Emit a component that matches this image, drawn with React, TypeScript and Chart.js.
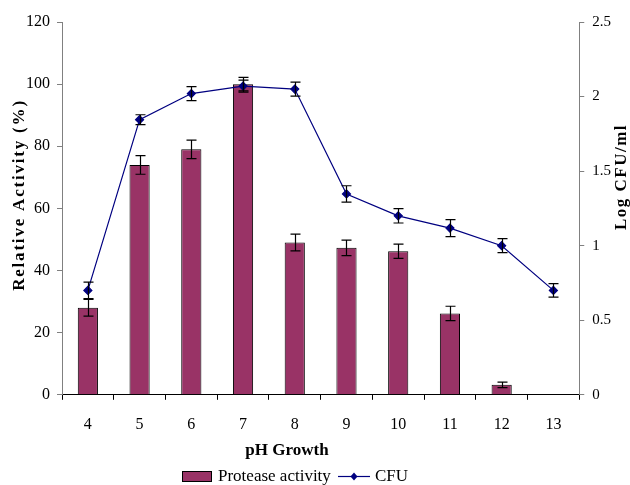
import React, { useEffect, useRef } from 'react';
import { Chart, registerables } from 'chart.js';
Chart.register(...registerables);

const categories = ['4', '5', '6', '7', '8', '9', '10', '11', '12', '13'];
const proteaseActivity = [28, 74, 79, 100, 49, 47.3, 46.2, 26.2, 3.2, 0];
const proteaseError = [2.7, 3, 3, 2.2, 2.7, 2.5, 2.3, 2.3, 0.9, 0];
const cfu = [0.7, 1.845, 2.02, 2.07, 2.05, 1.347, 1.2, 1.118, 1.0, 0.7];
const cfuError = [0.055, 0.033, 0.047, 0.04, 0.047, 0.055, 0.048, 0.057, 0.047, 0.045];
const leftTicks = [0, 20, 40, 60, 80, 100, 120];
const rightTicks = [0, 0.5, 1, 1.5, 2, 2.5];
const seriesNames = ['Protease activity', 'CFU'];

const FONT = "'Liberation Serif', 'Times New Roman', serif";
const BAR_COLOR = '#993366';
const LINE_COLOR = '#000080';

function drawRotated(ctx: any, text: string, x: number, y: number, spacing: string) {
  ctx.save();
  ctx.font = `bold 17px ${FONT}`;
  ctx.fillStyle = '#000';
  ctx.textAlign = 'center';
  ctx.textBaseline = 'middle';
  try { ctx.letterSpacing = spacing; } catch (e) { /* ignore */ }
  ctx.translate(x, y);
  ctx.rotate(-Math.PI / 2);
  ctx.fillText(text, 0, 0);
  ctx.restore();
}

const decorPlugin = {
  id: 'decor',
  afterDatasetsDraw(chart: any) {
    const ctx = chart.ctx;
    const errs = [proteaseError, cfuError];
    const scaleIds = ['y', 'y1'];
    const vals = [proteaseActivity, cfu];
    ctx.save();
    ctx.strokeStyle = '#000';
    ctx.lineWidth = 1.2;
    for (let d = 0; d < 2; d++) {
      const meta = chart.getDatasetMeta(d);
      const sc = chart.scales[scaleIds[d]];
      meta.data.forEach((el: any, i: number) => {
        const e = errs[d][i];
        if (!e) return;
        const x = Math.round(el.x) + 0.5;
        const yt = sc.getPixelForValue(vals[d][i] + e);
        const yb = sc.getPixelForValue(vals[d][i] - e);
        ctx.beginPath();
        ctx.moveTo(x, yt); ctx.lineTo(x, yb);
        ctx.moveTo(x - 5, yt); ctx.lineTo(x + 5, yt);
        ctx.moveTo(x - 5, yb); ctx.lineTo(x + 5, yb);
        ctx.stroke();
      });
    }
    ctx.restore();
  },
  afterDraw(chart: any) {
    const ctx = chart.ctx;
    drawRotated(ctx, 'Relative Activity (%)', 20, 195, '1.8px');
    drawRotated(ctx, 'Log CFU/ml', 622, 177, '1.5px');

    // x axis title
    ctx.save();
    ctx.fillStyle = '#000';
    ctx.font = `bold 17px ${FONT}`;
    ctx.textAlign = 'center';
    ctx.textBaseline = 'middle';
    ctx.fillText('pH Growth', 287, 451);

    // legend
    const ly = 476;
    ctx.fillStyle = BAR_COLOR;
    ctx.fillRect(182, ly - 5, 30, 11);
    ctx.strokeStyle = '#000';
    ctx.lineWidth = 1;
    ctx.strokeRect(182.5, ly - 4.5, 29, 10);
    ctx.font = `17px ${FONT}`;
    ctx.fillStyle = '#000';
    ctx.textAlign = 'left';
    ctx.fillText(seriesNames[0], 218, ly + 1);
    ctx.strokeStyle = LINE_COLOR;
    ctx.lineWidth = 1.2;
    ctx.beginPath();
    ctx.moveTo(338, ly + 0.5);
    ctx.lineTo(370, ly + 0.5);
    ctx.stroke();
    ctx.fillStyle = LINE_COLOR;
    ctx.beginPath();
    ctx.moveTo(354, ly - 3.5); ctx.lineTo(357.5, ly + 0.5); ctx.lineTo(354, ly + 4.5); ctx.lineTo(350.5, ly + 0.5);
    ctx.closePath();
    ctx.fill();
    ctx.fillStyle = '#000';
    ctx.fillText(seriesNames[1], 375, ly + 1);
    ctx.restore();
  },
};

export default function App() {
  const ref = useRef<HTMLCanvasElement>(null);
  useEffect(() => {
    document.body.style.margin = '0';
    const chart = new Chart(ref.current!, {
      type: 'bar',
      data: {
        labels: categories,
        datasets: [
          {
            type: 'bar',
            label: seriesNames[0],
            data: proteaseActivity,
            backgroundColor: BAR_COLOR,
            borderColor: '#000',
            borderWidth: 1,
            barPercentage: 0.39,
            categoryPercentage: 1,
            yAxisID: 'y',
            order: 2,
          },
          {
            type: 'line',
            label: seriesNames[1],
            data: cfu,
            borderColor: LINE_COLOR,
            backgroundColor: LINE_COLOR,
            borderWidth: 1.2,
            pointStyle: 'rectRot',
            pointRadius: 4,
            pointBackgroundColor: LINE_COLOR,
            pointBorderColor: LINE_COLOR,
            yAxisID: 'y1',
            order: 1,
          } as any,
        ],
      },
      options: {
        animation: false,
        responsive: true,
        maintainAspectRatio: false,
        layout: { padding: { top: 22, right: 11, left: 19, bottom: 36 } },
        plugins: {
          tooltip: { enabled: false },
          legend: { display: false },
        },
        scales: {
          x: {
            offset: true,
            grid: { offset: true, drawOnChartArea: false, drawTicks: true, tickLength: 5, color: '#000' },
            border: { color: '#000', width: 1 },
            ticks: { color: '#000', font: { family: FONT, size: 16 }, padding: 15 },
          },
          y: {
            position: 'left',
            min: 0,
            max: 120,
            afterBuildTicks: (s: any) => { s.ticks = leftTicks.map((v) => ({ value: v })); },
            grid: { drawOnChartArea: false, tickLength: 5, color: '#808080' },
            border: { color: '#808080', width: 1 },
            ticks: { color: '#000', font: { family: FONT, size: 16 }, padding: 7 },
          },
          y1: {
            position: 'right',
            min: 0,
            max: 2.5,
            afterBuildTicks: (s: any) => { s.ticks = rightTicks.map((v) => ({ value: v })); },
            grid: { drawOnChartArea: false, tickLength: 5, color: '#808080' },
            border: { color: '#808080', width: 1 },
            ticks: { color: '#000', font: { family: FONT, size: 15 }, padding: 8, callback: (v: any) => String(v) },
          },
        },
      },
      plugins: [decorPlugin],
    });
    return () => chart.destroy();
  }, []);
  return (
    <div style={{ position: 'absolute', left: 0, top: 0, width: 630, height: 485 }}>
      <canvas ref={ref} />
    </div>
  );
}
